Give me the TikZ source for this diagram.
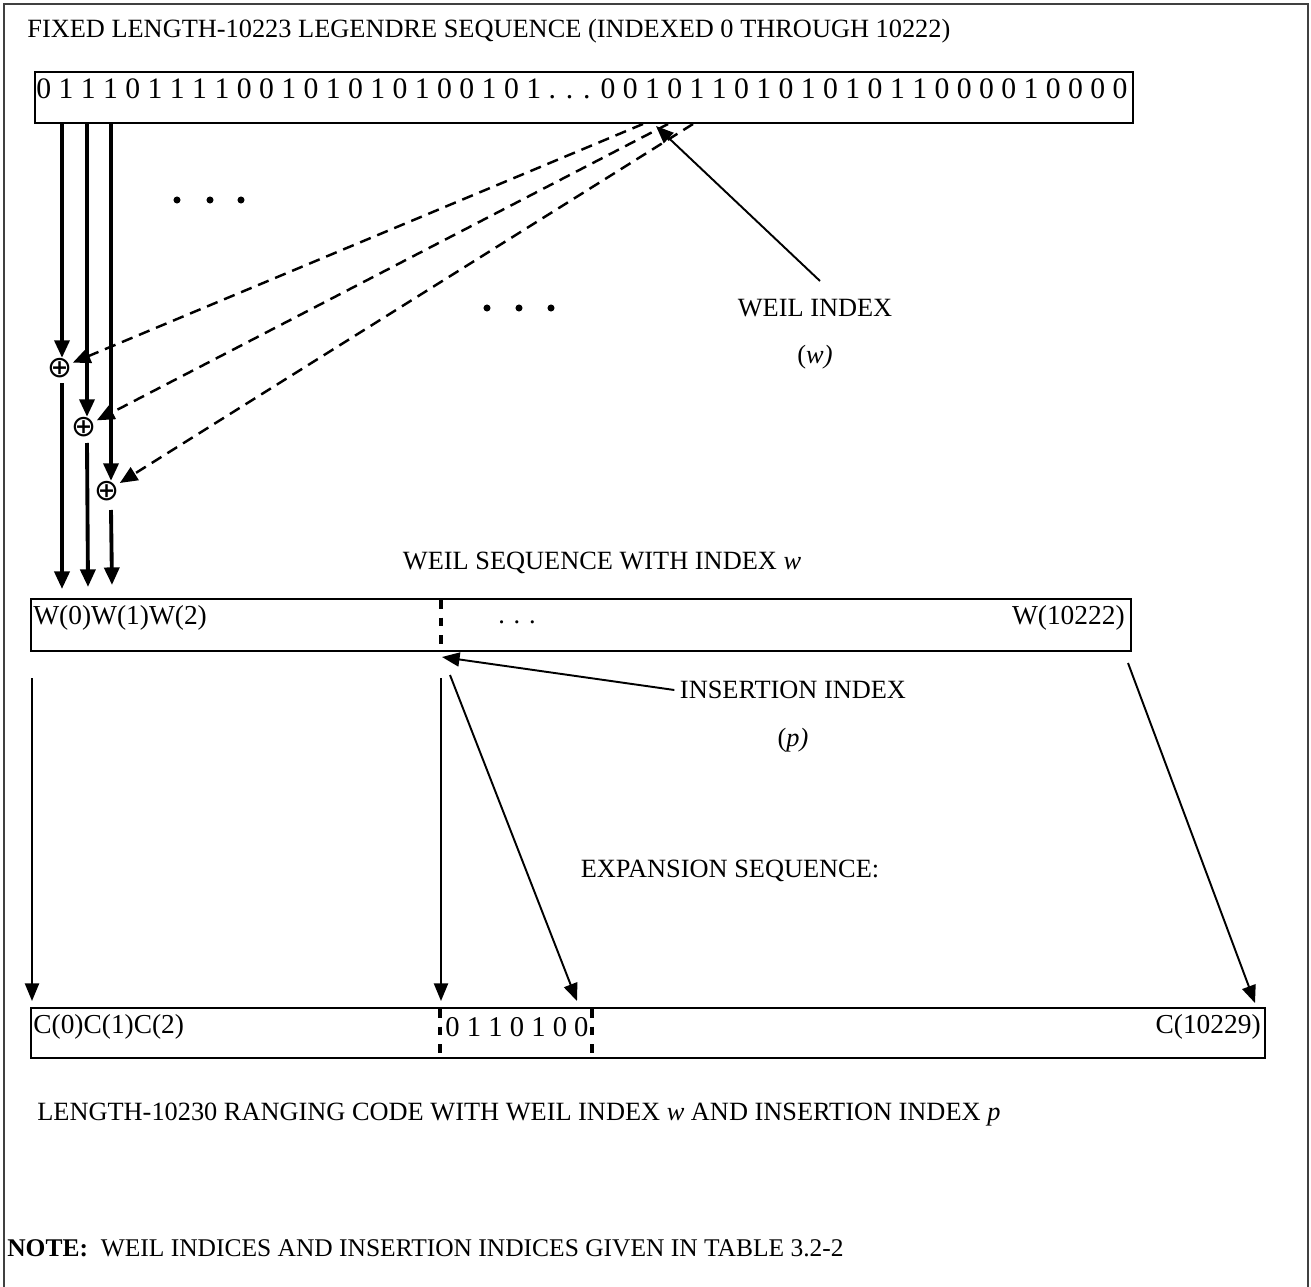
\documentclass[tikz,border=0pt]{standalone}
\usepackage{fontspec}
\setmainfont{Liberation Serif}
\newfontfamily\symfont{DejaVu Sans}
\usepackage{tikz}
\usetikzlibrary{arrows.meta}
\tikzset{
	fatarrow/.style={line width=2.2pt, -{Triangle[length=10pt,width=8.5pt]}},
	thinarrow/.style={line width=1.1pt, -{Triangle[length=10pt,width=8pt]}},
	dasharrow/.style={line width=1.4pt, dash pattern=on 6.5pt off 4pt, -{Triangle[length=10pt,width=8.5pt]}},
	seqbox/.style={line width=1pt},
	cutline/.style={line width=1.8pt, dash pattern=on 5pt off 5pt},
	lbl/.style={inner sep=0pt, font=\fontsize{15}{17}\selectfont},
	boxlbl/.style={inner sep=0pt, font=\fontsize{15.6}{18}\selectfont},
	xorsym/.style={inner sep=0pt, font=\symfont\fontsize{17}{19}\selectfont}
}

\begin{document}
\begin{tikzpicture}[x=0.02cm,y=-0.02cm]
			%%%%% START %%%%%
			\useasboundingbox (0,0) rectangle (1311,1287);
			\draw[line width=1pt, color=black!75] (4,1287) -- (4,4) -- (1308,4) -- (1308,1287);
			
			\node[lbl, anchor=west] (title) at (27,31) {FIXED LENGTH-10223 LEGENDRE SEQUENCE (INDEXED 0 THROUGH 10222)};
			
			\draw[seqbox] (35,72) rectangle (1133,123);
			\node[anchor=west, inner sep=0pt, font=\fontsize{16.9}{19}\selectfont] (legendre) at (36,89) {0 1 1 1 0 1 1 1 1 0 0 1 0 1 0 1 0 1 0 0 1 0 1 . . . 0 0 1 0 1 1 0 1 0 1 0 1 0 1 1 0 0 0 0 1 0 0 0 0};
			
			\node[xorsym] (x1) at (60,368) {⊕};
			\node[xorsym] (x2) at (84,427) {⊕};
			\node[xorsym] (x3) at (107,491) {⊕};
			
			\coordinate (a1) at (62,123);
			\coordinate (a2) at (87,123);
			\coordinate (a3) at (111,123);
			\draw[fatarrow] (a1) -- (a1 |- x1.north);
			\draw[fatarrow] (a2) -- (a2 |- x2.north);
			\draw[fatarrow] (a3) -- (a3 |- x3.north);
			
			\coordinate (d1) at (643,124);
			\coordinate (d2) at (668,124);
			\coordinate (d3) at (693,124);
			\draw[dasharrow] (d1) -- (x1);
			\draw[dasharrow] (d2) -- (x2);
			\draw[dasharrow] (d3) -- (x3);
			
			\coordinate (b1) at (62,383);
			\coordinate (b2) at (87,443);
			\coordinate (b3) at (111,510);
			\coordinate (w1) at (62,589);
			\coordinate (w2) at (88,587);
			\coordinate (w3) at (112,585);
			\draw[fatarrow] (b1) -- (w1);
			\draw[fatarrow] (b2) -- (w2);
			\draw[fatarrow] (b3) -- (w3);
			
			\foreach \x in {177,210,241} \fill (\x,200) circle (2pt);
			\foreach \x in {487,519,551} \fill (\x,308) circle (2pt);
			
			\node[lbl] (weil) at (815,308) {WEIL INDEX};
			\node[lbl] (weilw) at (815,357) {(\textit{w)}};
			\coordinate (wtail) at (820,281);
			\coordinate (wtip) at (656,126);
			\draw[thinarrow] (wtail) -- (wtip);
			
			\node[lbl] (wseq) at (602,563) {WEIL SEQUENCE WITH INDEX \textit{w}};
			
			\draw[seqbox] (31,599) rectangle (1131,651);
			\node[boxlbl, anchor=west] (wfirst) at (33,618) {W(0)W(1)W(2)};
			\node[lbl] (wdots) at (517,622) {. . .};
			\node[boxlbl, anchor=east] (wlast) at (1125,618) {W(10222)};
			\draw[cutline] (441,600) -- (441,651);
			
			\node[lbl] (ins) at (793,690) {INSERTION INDEX};
			\node[lbl] (insp) at (793,740) {(\textit{p)}};
			\coordinate (itip) at (442,657);
			\draw[thinarrow] ([xshift=-3pt]ins.west) -- (itip);
			
			\coordinate (c1) at (32,678);
			\coordinate (c2) at (441,678);
			\coordinate (c3) at (450,675);
			\coordinate (c4) at (1128,663);
			\coordinate (e1) at (32,1001);
			\coordinate (e2) at (441,1001);
			\coordinate (e3) at (577,1001);
			\coordinate (e4) at (1255,1003);
			\draw[thinarrow] (c1) -- (e1);
			\draw[thinarrow] (c2) -- (e2);
			\draw[thinarrow] (c3) -- (e3);
			\draw[thinarrow] (c4) -- (e4);
			
			\node[lbl] (expn) at (730,871) {EXPANSION SEQUENCE:};
			
			\draw[seqbox] (31,1008) rectangle (1265,1058);
			\node[boxlbl, anchor=west] (cfirst) at (33,1027) {C(0)C(1)C(2)};
			\node[anchor=west, inner sep=0pt, font=\fontsize{16.3}{18}\selectfont] (cins) at (445,1027) {0 1 1 0 1 0 0};
			\node[boxlbl, anchor=east] (clast) at (1261,1027) {C(10229)};
			\draw[cutline] (440,1009) -- (440,1058);
			\draw[cutline] (592,1009) -- (592,1058);
			
			\node[lbl, anchor=west] (code) at (37,1115) {LENGTH-10230 RANGING CODE WITH WEIL INDEX \textit{w} AND INSERTION INDEX \textit{p}};
			
			\node[lbl, anchor=west, font=\fontsize{14.5}{17}\selectfont] (note) at (7,1248) {\textbf{NOTE:}\ \ WEIL INDICES AND INSERTION INDICES GIVEN IN TABLE 3.2-2};
			
			%%%%% END %%%%%
\end{tikzpicture}
\end{document}
